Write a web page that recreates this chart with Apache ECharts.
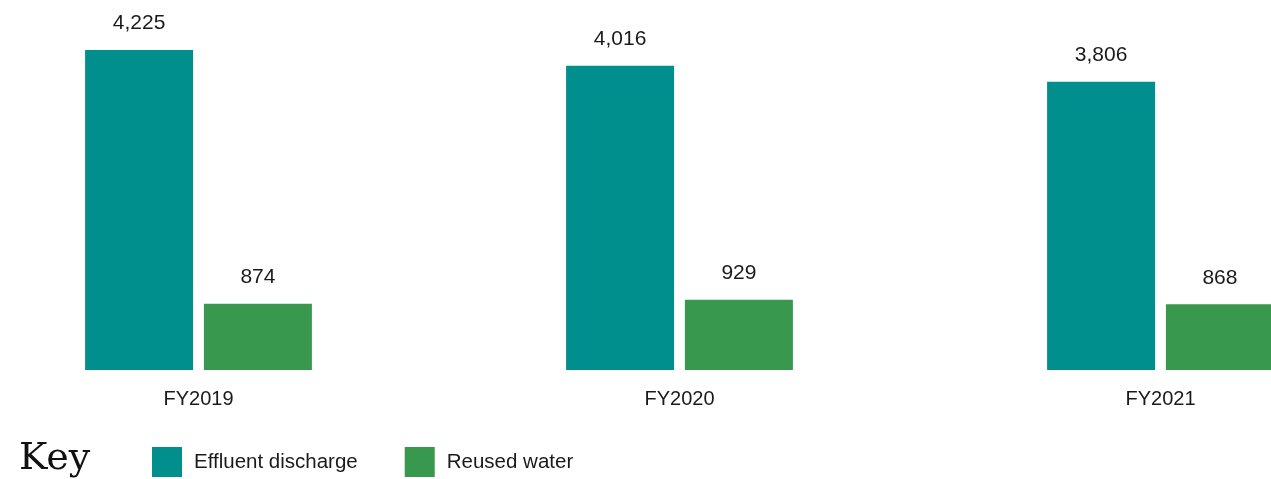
<!DOCTYPE html>
<html>
<head>
<meta charset="utf-8">
<script src="https://cdn.jsdelivr.net/npm/echarts@6/dist/echarts.min.js"></script>
<style>
  html, body { margin: 0; padding: 0; background: #ffffff; }
  #chart { width: 1271px; height: 479px; }
</style>
</head>
<body>
<div id="chart"></div>
<script>
// Water figures by financial year
const years = ['FY2019', 'FY2020', 'FY2021'];
const effluentDischarge = [4225, 4016, 3806];
const reusedWater = [874, 929, 868];
const seriesNames = ['Effluent discharge', 'Reused water'];

const TEAL = '#008f8c';
const GREEN = '#38984d';
const FONT = '"Liberation Sans", Arial, Helvetica, sans-serif';

const chart = echarts.init(document.getElementById('chart'), null, { renderer: 'canvas' });

const valueLabel = {
  show: true,
  position: 'top',
  distance: 16,
  color: '#1a1a1a',
  fontFamily: FONT,
  fontSize: 21,
  formatter: p => echarts.format.addCommas(p.value)
};

chart.setOption({
  animation: false,
  backgroundColor: '#ffffff',
  // category ticks sit on the group centres; bars spill past the grid edges
  grid: { left: 198.5, right: 110.5, top: 50, bottom: 109, containLabel: false },
  xAxis: {
    type: 'category',
    data: years,
    boundaryGap: false,
    axisLine: { show: false },
    axisTick: { show: false },
    splitLine: { show: false },
    axisLabel: { color: '#1a1a1a', fontFamily: FONT, fontSize: 20, margin: 19 }
  },
  yAxis: {
    type: 'value',
    min: 0,
    max: 'dataMax',
    show: false,
    splitLine: { show: false }
  },
  legend: {
    left: 152,
    top: 447,
    padding: 0,
    itemWidth: 30,
    itemHeight: 30,
    itemGap: 47,
    icon: 'rect',
    selectedMode: false,
    textStyle: { color: '#1a1a1a', fontFamily: FONT, fontSize: 20.5, padding: [0, 0, 0, 7] },
    data: seriesNames
  },
  graphic: [{
    type: 'text',
    left: 19,
    top: 440,
    style: {
      text: 'Key',
      fill: '#111111',
      fontFamily: '"DejaVu Serif", serif',
      fontSize: 38
    }
  }],
  series: [
    {
      name: seriesNames[0],
      type: 'bar',
      data: effluentDischarge,
      barWidth: 108,
      barGap: '10%',
      clip: false,
      itemStyle: { color: TEAL },
      label: valueLabel
    },
    {
      name: seriesNames[1],
      type: 'bar',
      data: reusedWater,
      barWidth: 108,
      clip: false,
      itemStyle: { color: GREEN },
      label: valueLabel
    }
  ]
});
</script>
</body>
</html>
